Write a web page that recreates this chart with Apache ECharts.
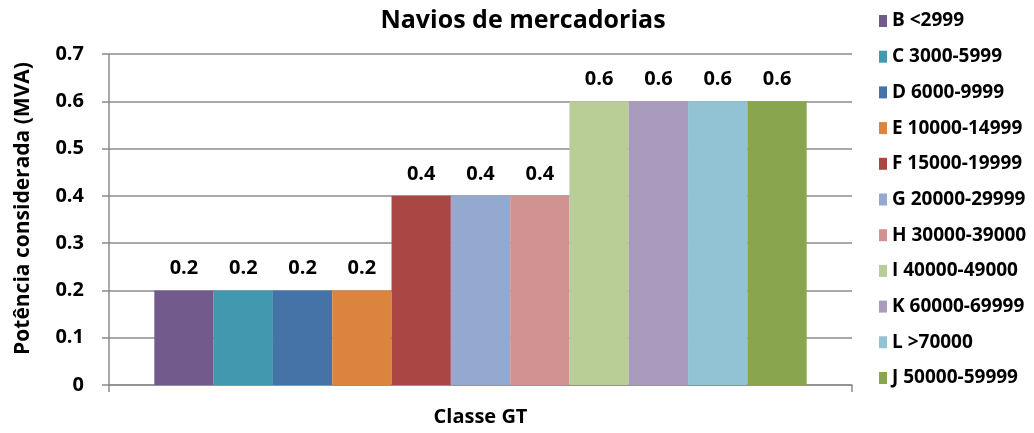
<!DOCTYPE html>
<html>
<head>
<meta charset="utf-8">
<script src="https://cdn.jsdelivr.net/npm/echarts@6/dist/echarts.min.js"></script>
<style>
  html, body { margin: 0; padding: 0; background: #fff; }
  #main { width: 1034px; height: 433px; }
</style>
</head>
<body>
<div id="main"></div>
<script>
// classes GT e potência considerada
var classNames = ['B <2999', 'C 3000-5999', 'D 6000-9999', 'E 10000-14999', 'F 15000-19999',
  'G 20000-29999', 'H 30000-39000', 'I 40000-49000', 'K 60000-69999', 'L >70000', 'J 50000-59999'];
var powerValues = [0.2, 0.2, 0.2, 0.2, 0.4, 0.4, 0.4, 0.6, 0.6, 0.6, 0.6];
var classColors = ['#725A8D', '#4198AF', '#4573A7', '#DB843D', '#AA4643',
  '#93A9CF', '#D19392', '#B9CD96', '#A99BBD', '#92C3D5', '#89A54E'];
var yTicks = { min: 0, max: 0.7, step: 0.1 };

var font = '"Open Sans", Lato, sans-serif';
var myChart = echarts.init(document.getElementById('main'));

var series = classNames.map(function (name, i) {
  return {
    name: name,
    type: 'bar',
    data: [powerValues[i]],
    barGap: 0,
    barCategoryGap: '12.2%',
    itemStyle: { color: classColors[i] },
    label: {
      show: true,
      position: 'top',
      distance: 12,
      fontFamily: font,
      fontWeight: 'bold',
      fontSize: 20,
      color: '#000',
      formatter: function (p) { return p.value.toFixed(1); }
    }
  };
});

myChart.setOption({
  animation: false,
  title: {
    text: 'Navios de mercadorias',
    left: 518,
    textAlign: 'center',
    top: 3,
    textStyle: { fontFamily: font, fontWeight: 'bold', fontSize: 25, color: '#000' }
  },
  legend: {
    orient: 'vertical',
    left: 879,
    top: 11,
    padding: 0,
    itemWidth: 8,
    itemHeight: 12,
    itemGap: 15.7,
    icon: 'rect',
    textStyle: { fontFamily: font, fontWeight: 'bold', fontSize: 19, lineHeight: 20, color: '#000' },
    data: classNames
  },
  grid: { left: 109, right: 182, top: 54, bottom: 48 },
  xAxis: {
    type: 'category',
    data: [''],
    name: 'Classe GT',
    nameLocation: 'middle',
    nameGap: 22,
    nameTextStyle: { fontFamily: font, fontWeight: 'bold', fontSize: 20, color: '#000' },
    axisLine: { lineStyle: { color: '#8c8c8c', width: 1.5 } },
    axisTick: { show: true, length: 7, lineStyle: { color: '#8c8c8c', width: 1.5 } },
    axisLabel: { show: false }
  },
  yAxis: {
    type: 'value',
    min: yTicks.min,
    max: yTicks.max,
    interval: yTicks.step,
    name: 'Potência considerada (MVA)',
    nameLocation: 'middle',
    nameGap: 75,
    nameTextStyle: { fontFamily: font, fontWeight: 'bold', fontSize: 21, color: '#000', padding: [0, 0, 0, 22] },
    axisLine: { show: true, lineStyle: { color: '#8c8c8c', width: 1.5 } },
    axisTick: { show: true, length: 7, lineStyle: { color: '#8c8c8c', width: 1.5 } },
    axisLabel: {
      margin: 25,
      fontFamily: font,
      fontWeight: 'bold',
      fontSize: 20,
      color: '#000',
      formatter: function (v) { return v === 0 ? '0' : v.toFixed(1); }
    },
    splitLine: { lineStyle: { color: '#8c8c8c', width: 1.5 } }
  },
  series: series
});
</script>
</body>
</html>
